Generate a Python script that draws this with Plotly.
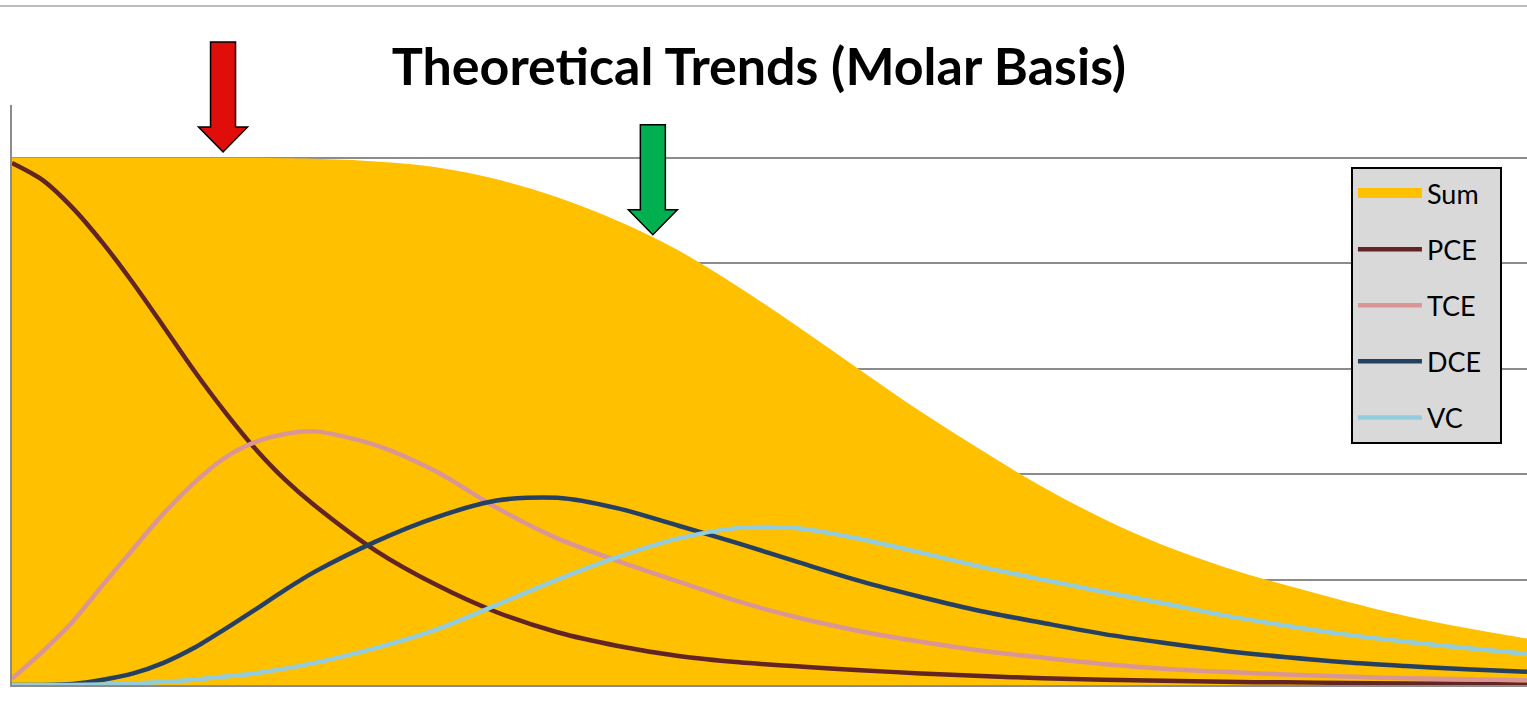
import plotly.graph_objects as go

# time axis (arbitrary units, 0..100 across the plot)
T = [0, 2, 4, 6, 8, 10, 12, 14, 16, 18, 20, 24, 28, 32, 36, 40, 44, 48,
     52, 56, 60, 64, 68, 72, 76, 80, 84, 88, 92, 96, 100]

# molar fractions
SUM = [1.0, 1.0, 1.0, 1.0, 1.0, 1.0, 1.0, 1.0, 1.0, 0.999, 0.998, 0.993,
       0.982, 0.959, 0.925, 0.88, 0.824, 0.754, 0.677, 0.597, 0.518, 0.445,
       0.376, 0.316, 0.265, 0.224, 0.19, 0.159, 0.131, 0.108, 0.088]
PCE = [0.99, 0.958, 0.905, 0.838, 0.762, 0.68, 0.597, 0.52, 0.45, 0.39,
       0.34, 0.255, 0.19, 0.138, 0.1, 0.074, 0.055, 0.043, 0.035, 0.028,
       0.022, 0.017, 0.013, 0.01, 0.008, 0.006, 0.005, 0.004, 0.003, 0.002,
       0.001]
TCE = [0.012, 0.063, 0.12, 0.19, 0.258, 0.325, 0.383, 0.43, 0.46, 0.476,
       0.481, 0.455, 0.405, 0.336, 0.278, 0.235, 0.196, 0.158, 0.127, 0.102,
       0.082, 0.065, 0.052, 0.04, 0.031, 0.025, 0.02, 0.016, 0.013, 0.011,
       0.009]
DCE = [0.0, 0.0, 0.002, 0.01, 0.022, 0.042, 0.07, 0.105, 0.142, 0.18, 0.215,
       0.272, 0.318, 0.35, 0.355, 0.335, 0.302, 0.268, 0.232, 0.197, 0.167,
       0.14, 0.118, 0.097, 0.08, 0.065, 0.053, 0.043, 0.036, 0.03, 0.025]
VC = [0.0, 0.0, 0.0, 0.001, 0.003, 0.006, 0.01, 0.016, 0.022, 0.031, 0.042,
      0.07, 0.105, 0.152, 0.2, 0.243, 0.278, 0.298, 0.297, 0.277, 0.251,
      0.224, 0.2, 0.177, 0.155, 0.132, 0.113, 0.096, 0.082, 0.07, 0.059]

LINES = [("PCE", PCE, "#632523"), ("TCE", TCE, "#D99694"),
         ("DCE", DCE, "#254061"), ("VC", VC, "#93CDDD")]
SUM_COLOR = "#FFC000"
PAD = "\u00a0\u00a0"  # a little air on the right of the legend text

X_MAX = 100
Y_MAX = 1.1
PLOT_W = 1515  # px
PLOT_H = 580   # px

fig = go.Figure()
fig.add_trace(go.Scatter(
    x=T, y=SUM, name="Sum", mode="lines", showlegend=False,
    line=dict(width=0, shape="spline", color=SUM_COLOR),
    fill="tozeroy", fillcolor=SUM_COLOR,
))
# legend swatch for the area (thick bar like the original)
fig.add_trace(go.Scatter(
    x=[None], y=[None], name="Sum" + PAD, mode="lines", legendgroup="sum",
    line=dict(color=SUM_COLOR, width=14),
))
for name, vals, col in LINES:
    fig.add_trace(go.Scatter(
        x=T, y=vals, name=name + PAD, mode="lines", legendgroup=name,
        line=dict(color=col, width=4.5, shape="spline", smoothing=0.8),
    ))


def arrow(tip_t, tip_v, color, length=110, shaft=12.5, head=24.5, head_len=25):
    # block arrow pointing down, tip given in data units, sizes in px
    xt = tip_t / X_MAX
    yt = tip_v / Y_MAX
    sx, hx = shaft / PLOT_W, head / PLOT_W
    hy, ly = head_len / PLOT_H, length / PLOT_H
    pts = [(xt - sx, yt + ly), (xt + sx, yt + ly), (xt + sx, yt + hy),
           (xt + hx, yt + hy), (xt, yt), (xt - hx, yt + hy), (xt - sx, yt + hy)]
    path = "M " + " L ".join(f"{a:.5f},{b:.5f}" for a, b in pts) + " Z"
    return dict(type="path", xref="paper", yref="paper", path=path,
                fillcolor=color, line=dict(color="black", width=1.5), layer="above")


fig.update_layout(
    width=1527, height=714,
    margin=dict(l=12, r=0, t=105, b=29),
    paper_bgcolor="white", plot_bgcolor="white",
    font=dict(family="Lato, sans-serif", color="black"),
    title=dict(text="<b>Theoretical Trends (Molar Basis)</b>",
               font=dict(size=52, family="Lato, sans-serif", color="black"),
               x=0.497, xanchor="center", y=0.906, yanchor="middle"),
    xaxis=dict(range=[0, X_MAX], showgrid=False, zeroline=False, showticklabels=False,
               ticks="", showline=True, linecolor="#8C8C8C", linewidth=2),
    yaxis=dict(range=[0, Y_MAX], tick0=0, dtick=0.2, showgrid=True, gridcolor="#8C8C8C",
               gridwidth=2, zeroline=False, showticklabels=False, ticks="",
               showline=True, linecolor="#8C8C8C", linewidth=2),
    legend=dict(x=0.8838, y=0.8931, xanchor="left", yanchor="top",
                bgcolor="#D9D9D9", bordercolor="black", borderwidth=2,
                font=dict(size=27, family="Lato, sans-serif", color="black"),
                itemwidth=64, traceorder="grouped", tracegroupgap=18),
    shapes=[
        arrow(13.93, 1.011, "#E00E0B"),
        arrow(42.3, 0.854, "#00B050"),
        dict(type="line", xref="paper", yref="paper", x0=-0.008, x1=1.0,
             y0=1.1707, y1=1.1707, line=dict(color="#A6A6A6", width=1.5)),
    ],
)

# drop the default 8px page margin so the figure fills the window
fig.write_html("out.html", config={"displayModeBar": False},
               post_script="document.body.style.margin='0';")
